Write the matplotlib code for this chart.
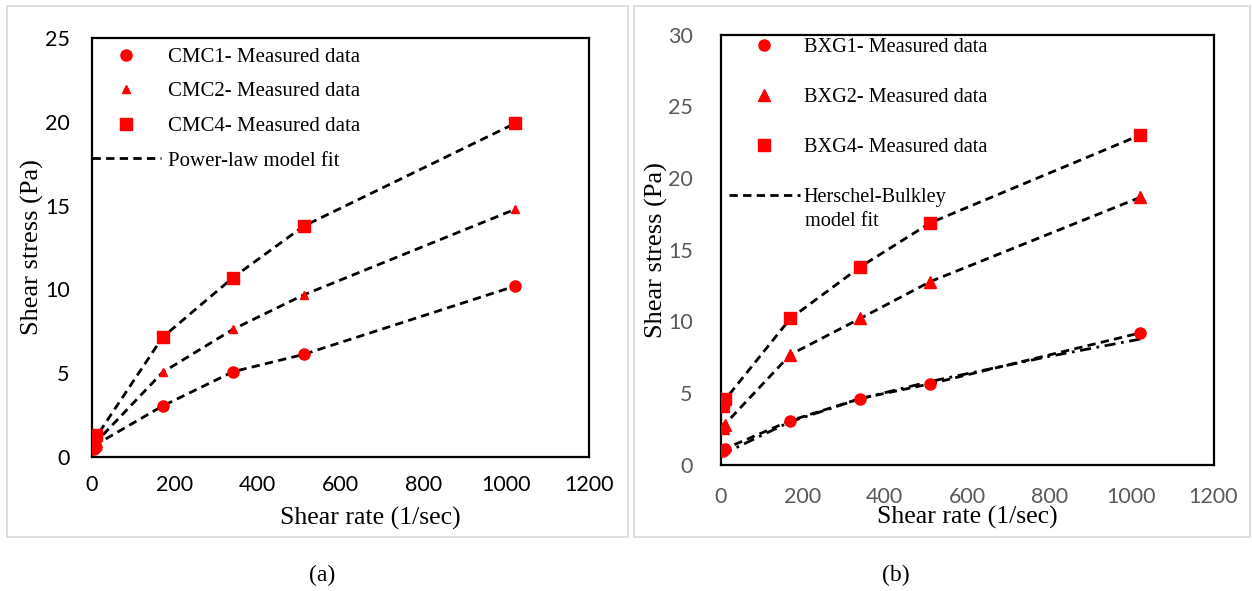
import numpy as np
import matplotlib
matplotlib.use("Agg")
import matplotlib.pyplot as plt
from matplotlib.patches import Rectangle
from matplotlib.lines import Line2D

# shear rates (1/sec)
rate = [5.1, 10.2, 170.3, 340.6, 510.9, 1021.8]

# (a) CMC measured data and power-law fit
cmc1 = [0.45, 0.6, 3.04, 5.09, 6.12, 10.2]
cmc2 = [0.6, 0.8, 5.05, 7.62, 9.67, 14.78]
cmc4 = [0.99, 1.29, 7.14, 10.71, 13.77, 19.91]
cmc1_fit = [0.65, 0.75, 3.04, 5.09, 6.12, 10.2]
cmc2_fit = [0.7, 0.9, 5.05, 7.62, 9.67, 14.78]
cmc4_fit = [0.75, 1.2, 7.14, 10.71, 13.77, 19.91]

# (b) BXG measured data and Herschel-Bulkley fit
bxg1 = [0.96, 1.08, 3.07, 4.61, 5.64, 9.19]
bxg2 = [2.52, 2.76, 7.68, 10.2, 12.77, 18.65]
bxg4 = [4.08, 4.56, 10.2, 13.8, 16.87, 22.99]
bxg1_fit = [0.95, 1.1, 3.07, 4.61, 5.64, 9.19]
bxg2_fit = [2.5, 2.8, 7.68, 10.2, 12.77, 18.65]
bxg4_fit = [4.1, 4.5, 10.2, 13.8, 16.87, 22.99]
bxg1_fit2_x = [5.1, 10.2, 170.3, 340.6, 510.9, 800, 1021.8]
bxg1_fit2 = [0.6, 0.8, 3.0, 4.6, 5.8, 7.55, 8.76]

serif = "Liberation Serif"
red = "#ff0000"
dash = (0, (3, 1.9))
lw = 2.0

fig = plt.figure(figsize=(12.52, 5.91), dpi=100)

# panel frames
for x0, w in [(7, 621), (634, 616)]:
    fig.patches.append(Rectangle((x0 / 1252, 1 - 537 / 591), w / 1252, 531 / 591,
                                 transform=fig.transFigure, fill=False,
                                 edgecolor="#d9d9d9", lw=1.2))

ax1 = fig.add_axes([92 / 1252, 1 - 457 / 591, 497 / 1252, 419 / 591])
ax2 = fig.add_axes([720.5 / 1252, 1 - 464.6 / 591, 493 / 1252, 430 / 591])

for ax in (ax1, ax2):
    ax.set_xlim(0, 1200)
    ax.set_xticks(np.arange(0, 1201, 200))
    for s in ax.spines.values():
        s.set_linewidth(1.6)
        s.set_color("black")
    ax.tick_params(length=0, labelsize=15.5)
    for lab in ax.get_xticklabels() + ax.get_yticklabels():
        lab.set_fontfamily("Lato")

# (a)
ax1.set_ylim(0, 25)
ax1.set_yticks(np.arange(0, 26, 5))
ax1.tick_params(axis="y", pad=16)
ax1.tick_params(axis="x", pad=13)
for fit in (cmc1_fit, cmc2_fit, cmc4_fit):
    ax1.plot(rate, fit, color="black", lw=lw, linestyle=dash, zorder=2)
ax1.plot(rate, cmc1, "o", color=red, ms=8, zorder=3)
ax1.plot(rate, cmc2, "^", color=red, ms=6, zorder=3)
ax1.plot(rate, cmc4, "s", color=red, ms=8, zorder=3)

h1 = [Line2D([], [], marker="o", color=red, ls="none", ms=8),
      Line2D([], [], marker="^", color=red, ls="none", ms=6),
      Line2D([], [], marker="s", color=red, ls="none", ms=8),
      Line2D([], [], color="black", lw=lw, linestyle=dash)]
ax1.legend(h1, ["CMC1- Measured data", "CMC2- Measured data",
                "CMC4- Measured data", "Power-law model fit"],
           loc="upper left", bbox_to_anchor=(0.0, 0.978), frameon=False,
           prop={"family": serif, "size": 15}, handlelength=3.3,
           handletextpad=0.34, labelspacing=0.72, borderaxespad=0,
           borderpad=0)
ax1.set_ylabel("Shear stress (Pa)", fontfamily=serif, fontsize=19)
ax1.yaxis.set_label_coords(-0.097, 0.5)
ax1.set_xlabel("Shear rate (1/sec)", fontfamily=serif, fontsize=18.5)
ax1.xaxis.set_label_coords(0.56, -0.118)

# (b)
grey = "#595959"
ax2.set_ylim(0, 30)
ax2.set_yticks(np.arange(0, 31, 5))
ax2.tick_params(axis="y", pad=20, labelcolor=grey)
ax2.tick_params(axis="x", pad=16, labelcolor=grey)
for fit in (bxg1_fit, bxg2_fit, bxg4_fit):
    ax2.plot(rate, fit, color="black", lw=lw, linestyle=dash, zorder=2)
ax2.plot(bxg1_fit2_x, bxg1_fit2, color="black", lw=lw,
         linestyle=(0, (4, 2, 1, 2)), zorder=2)
ax2.plot(rate, bxg1, "o", color=red, ms=8, zorder=3)
ax2.plot(rate, bxg2, "^", color=red, ms=8, zorder=3)
ax2.plot(rate, bxg4, "s", color=red, ms=8, zorder=3)

h2 = [Line2D([], [], marker="o", color=red, ls="none", ms=8),
      Line2D([], [], marker="^", color=red, ls="none", ms=8),
      Line2D([], [], marker="s", color=red, ls="none", ms=8),
      Line2D([], [], color="black", lw=lw, linestyle=dash)]
ax2.legend(h2, ["BXG1- Measured data", "BXG2- Measured data",
                "BXG4- Measured data", "Herschel-Bulkley"],
           loc="upper left", bbox_to_anchor=(0.017, 0.993), frameon=False,
           prop={"family": serif, "size": 14.6}, handlelength=3.5,
           handletextpad=0.2, labelspacing=1.53, borderaxespad=0,
           borderpad=0)
ax2.text(0.172, 0.566, "model fit", transform=ax2.transAxes, va="center",
         ha="left", fontfamily=serif, fontsize=14.6)
ax2.set_ylabel("Shear stress (Pa)", fontfamily=serif, fontsize=19)
ax2.yaxis.set_label_coords(-0.106, 0.5)
ax2.set_xlabel("Shear rate (1/sec)", fontfamily=serif, fontsize=18.5)
ax2.xaxis.set_label_coords(0.5, -0.097)

fig.text(322 / 1252, 1 - 575 / 591, "(a)", ha="center", va="center",
         fontfamily=serif, fontsize=17)
fig.text(896 / 1252, 1 - 575 / 591, "(b)", ha="center", va="center",
         fontfamily=serif, fontsize=17)

fig.savefig("out.png", dpi=100)
